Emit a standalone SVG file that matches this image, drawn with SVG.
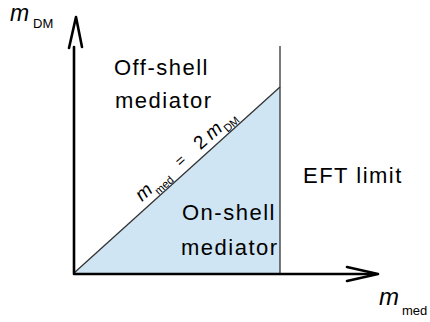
<svg xmlns="http://www.w3.org/2000/svg" width="430" height="322" viewBox="0 0 430 322">
<style>
text{font-family:"Liberation Sans","DejaVu Sans",sans-serif;fill:#000}
.lbl{font-size:22px;letter-spacing:1.5px}
.m{font-style:italic}
.axis{stroke:#000;stroke-width:2.6;fill:none;stroke-linecap:round;stroke-linejoin:round}
.thin{stroke:#333;stroke-width:1.3;fill:none}
</style>
<rect width="430" height="322" fill="#fff"/>
<g id="onshell-region">
<polygon points="74,273 280,87 280,273" fill="#cfe5f3"/>
</g>
<g id="connectors">
<line class="thin" x1="74" y1="273" x2="280" y2="87"/>
<line class="thin" x1="280" y1="274" x2="280" y2="46"/>
<line class="axis" x1="74" y1="273" x2="74" y2="47"/>
<polyline class="axis" points="69,48 76,17 82,47" stroke-width="3.2"/>
<line class="axis" x1="74" y1="274" x2="372" y2="274"/>
<polyline class="axis" points="347,267 378,274 347,281" stroke-width="3.2"/>
</g>
<g id="y-label">
<text x="10" y="21" font-size="23" class="m">m</text>
<text x="33" y="28" font-size="13">DM</text>
</g>
<g id="x-label">
<text x="379" y="305" font-size="24" class="m">m</text>
<text x="402" y="315" font-size="13">med</text>
</g>
<g id="offshell">
<text class="lbl" x="114" y="75">Off-shell</text>
<text class="lbl" x="115" y="108">mediator</text>
</g>
<g id="onshell">
<text class="lbl" x="182" y="220">On-shell</text>
<text class="lbl" x="181" y="255" letter-spacing="1">mediator</text>
</g>
<g id="eft">
<text class="lbl" x="303" y="183">EFT limit</text>
</g>
<g id="diagonal-label" transform="translate(74,273) rotate(-42.1)">
<text x="98" y="-7" font-size="19" class="m">m</text>
<text x="115" y="-1" font-size="11">med</text>
<text x="150" y="-7" font-size="15">=</text>
<text x="176" y="-6" font-size="19">2</text>
<text x="191" y="-6" font-size="19" class="m">m</text>
<text x="208" y="-1" font-size="11">DM</text>
</g>
</svg>
